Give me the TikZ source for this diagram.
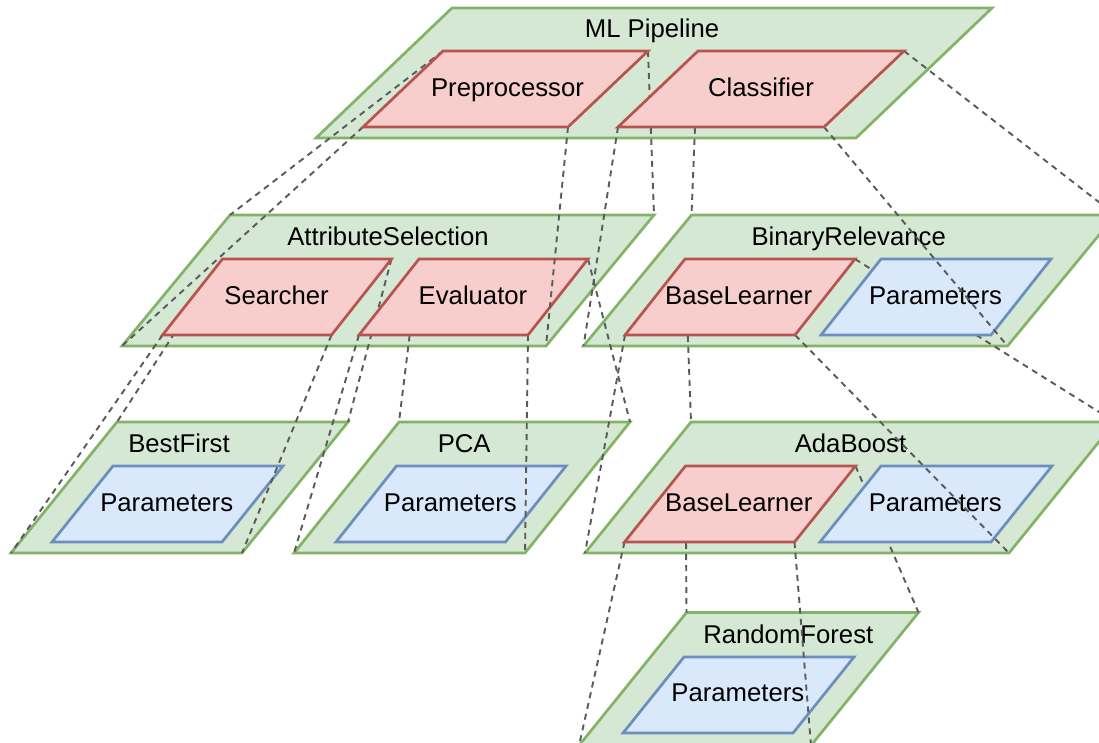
\documentclass[tikz,border=0pt]{standalone}
\usepackage{fontspec}
\setmainfont{Liberation Sans}

\definecolor{edgegreen}{HTML}{82B366}
\definecolor{fillgreen}{HTML}{D5E8D4}
\definecolor{edgered}{HTML}{B85450}
\definecolor{fillred}{HTML}{F8CECC}
\definecolor{edgeblue}{HTML}{6C8EBF}
\definecolor{fillblue}{HTML}{DAE8FC}
\definecolor{linkgray}{HTML}{5A5A5A}

\tikzset{
  shp/.style={line width=2.7pt, line join=miter},
  outerbox/.style={shp, draw=edgegreen, fill=fillgreen},
  compbox/.style={shp, draw=edgered, fill=fillred},
  parbox/.style={shp, draw=edgeblue, fill=fillblue},
  link/.style={draw=linkgray, line width=1.9pt, dash pattern=on 6pt off 5pt},
  lbl/.style={font=\fontsize{25.7}{30}\selectfont, anchor=base, inner sep=0pt},
}

% corners of a right-leaning parallelogram:
% name, x of top-left corner, y of top edge, width, height, horizontal skew
\newcommand{\placebox}[6]{%
  \coordinate (#1-tl) at (#2,#3);
  \coordinate (#1-tr) at ({#2+#4},#3);
  \coordinate (#1-br) at ({#2+#4-#6},{#3+#5});
  \coordinate (#1-bl) at ({#2-#6},{#3+#5});
}
% fill and outline a placed parallelogram, then set its label
% name, style, label x, label baseline y, label text
\newcommand{\paintbox}[5]{%
  \path[#2] (#1-tl) -- (#1-tr) -- (#1-br) -- (#1-bl) -- cycle;
  \node[lbl] (#1-t) at (#3,#4) {#5};
}
% dashed corner-to-corner projection from a component to its expansion
\newcommand{\cornerlinks}[2]{%
  \foreach \c in {tl,tr,br,bl} {\draw[link] (#1-\c) -- (#2-\c);}
}

\begin{document}
\begin{tikzpicture}[x=1pt,y=-1pt]
\useasboundingbox (0,0) rectangle (1099,742);
\clip (0,0) rectangle (1099,742);

% ---- geometry ----
% pipeline level
\placebox{ml}{452}{8}{540}{130}{136}
\placebox{pre}{443}{51}{205}{76}{80}
\placebox{cls}{698}{51}{206}{76}{80}
% first refinement
\placebox{as}{230}{215}{424}{131}{108}
\placebox{brel}{691.5}{215}{424}{131}{108}
\placebox{srch}{222.5}{259}{169}{76}{60}
\placebox{eval}{419}{259}{169}{76}{60}
\placebox{brbl}{685}{259}{170}{76}{60}
\placebox{brp}{881}{259}{170}{76}{60}
% second refinement
\placebox{bf}{117}{422}{231}{131}{106}
\placebox{pca}{399}{422}{231}{131}{105}
\placebox{ada}{691}{422}{424}{131}{106}
\placebox{bfp}{113}{466}{170}{76}{61}
\placebox{pcap}{396.5}{466}{169.5}{76}{60.5}
\placebox{adabl}{685.5}{466}{170}{76}{61}
\placebox{adap}{881}{466}{171}{76}{61}
% third refinement
\placebox{rf}{686.5}{612.5}{232}{133}{107.5}
\placebox{rfp}{684}{657}{170}{76}{61}

% ---- drawing, back to front ----
\paintbox{rf}{outerbox}{788.3}{643}{RandomForest}
\paintbox{rfp}{parbox}{737.8}{701.5}{Parameters}

\paintbox{bf}{outerbox}{179}{452.5}{BestFirst}
\paintbox{pca}{outerbox}{464.2}{452.5}{PCA}
\paintbox{ada}{outerbox}{850.5}{452.5}{AdaBoost}
\cornerlinks{adabl}{rf}
\paintbox{bfp}{parbox}{166.7}{511}{Parameters}
\paintbox{pcap}{parbox}{450.3}{511}{Parameters}
\paintbox{adabl}{compbox}{738.8}{511}{BaseLearner}
\paintbox{adap}{parbox}{935.2}{511}{Parameters}

\paintbox{as}{outerbox}{388}{245}{AttributeSelection}
\paintbox{brel}{outerbox}{848.7}{245}{BinaryRelevance}
\cornerlinks{srch}{bf}
\cornerlinks{eval}{pca}
\cornerlinks{brbl}{ada}
\paintbox{srch}{compbox}{276.6}{304}{Searcher}
\paintbox{eval}{compbox}{473}{304}{Evaluator}
\paintbox{brbl}{compbox}{738.7}{304}{BaseLearner}
\paintbox{brp}{parbox}{935.5}{304}{Parameters}

\paintbox{ml}{outerbox}{652}{37.7}{ML Pipeline}
\cornerlinks{pre}{as}
\cornerlinks{cls}{brel}
\paintbox{pre}{compbox}{507.5}{96}{Preprocessor}
\paintbox{cls}{compbox}{761}{96}{Classifier}
\end{tikzpicture}
\end{document}
